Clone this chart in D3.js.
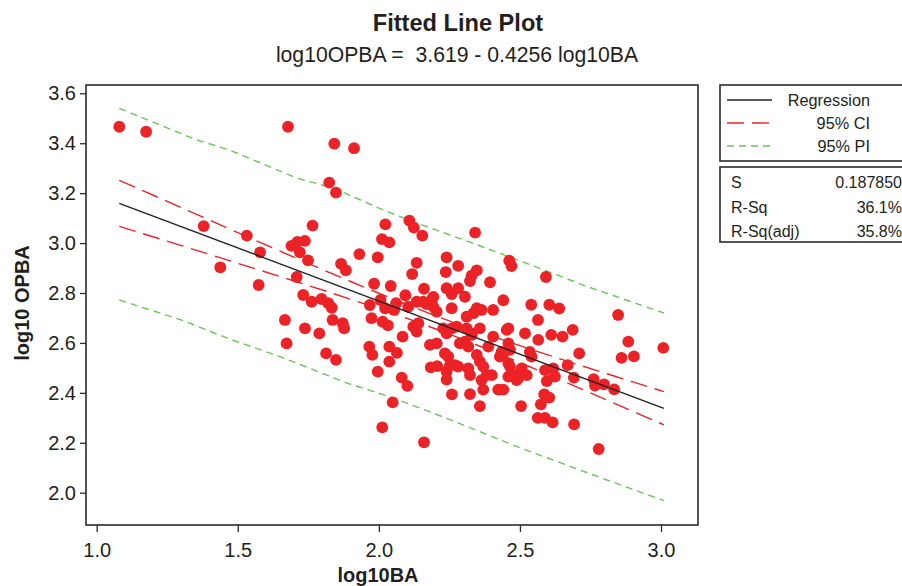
<!DOCTYPE html>
<html><head><meta charset="utf-8">
<script src="https://cdn.jsdelivr.net/npm/d3@7"></script>
<style>
html,body{margin:0;padding:0;background:#fff;}
text{font-family:"Liberation Sans",Arial,Helvetica,sans-serif;fill:#231f20;}
</style></head>
<body>
<svg id="c" width="902" height="586"></svg>
<script>
// ---- data ----
const log10BA = [1.080,1.175,1.678,1.842,1.912,1.824,1.848,1.379,1.532,1.579,1.438,1.574,1.765,1.690,1.711,1.738,1.720,1.749,1.709,1.866,
1.883,1.931,1.996,2.023,2.011,2.037,1.983,2.042,1.732,1.762,1.797,1.821,1.833,1.667,1.738,1.789,1.673,1.836,1.872,1.877,
1.813,1.848,1.968,1.974,2.013,2.032,1.966,1.977,1.996,2.037,2.064,2.037,2.049,2.012,2.006,2.022,2.054,2.061,2.108,2.124,
2.154,2.134,2.118,2.094,2.104,2.134,2.084,2.122,2.134,2.341,2.240,2.281,2.237,2.347,2.329,2.323,2.394,2.462,2.470,2.592,
2.160,2.193,2.240,2.281,2.258,2.305,2.441,2.540,2.604,2.639,2.169,2.193,2.205,2.258,2.347,2.364,2.335,2.311,2.405,2.459,
2.564,2.518,2.565,2.611,2.651,2.687,2.848,2.884,3.008,2.860,2.904,2.710,2.669,2.691,2.761,2.766,2.798,2.834,2.535,2.541,
2.589,2.618,2.595,2.624,2.586,2.604,2.574,2.563,2.589,2.616,2.692,2.779,2.504,2.358,2.323,2.259,2.370,2.423,2.441,2.160,
2.240,2.081,2.101,2.228,2.240,2.258,2.276,2.311,2.358,2.329,2.405,2.205,2.181,2.287,2.317,2.388,2.234,2.246,2.252,2.270,
2.281,2.240,2.184,2.207,2.323,2.317,2.347,2.358,2.370,2.382,2.400,2.364,2.429,2.435,2.465,2.471,2.488,2.500,2.459,2.524,
2.441,2.459,2.494,2.506,2.305,2.329,2.453,2.459,2.465,2.140,2.157,2.187];
const log10OPBA = [3.466,3.446,3.466,3.398,3.380,3.242,3.202,3.068,3.030,2.963,2.903,2.832,3.070,2.989,3.005,3.009,2.963,2.931,2.864,2.917,
2.891,2.956,2.943,3.075,3.016,3.003,2.837,2.828,2.792,2.765,2.776,2.759,2.741,2.692,2.658,2.638,2.598,2.692,2.679,2.658,
2.558,2.532,2.752,2.699,2.685,2.670,2.585,2.552,2.485,2.585,2.560,2.525,2.362,2.262,2.772,2.739,2.732,2.759,3.090,3.062,
3.030,2.921,2.876,2.791,2.745,2.765,2.625,2.665,2.645,3.042,2.943,2.909,2.884,2.891,2.870,2.848,2.843,2.930,2.908,2.864,
2.817,2.784,2.819,2.819,2.796,2.785,2.771,2.753,2.753,2.738,2.756,2.745,2.725,2.739,2.739,2.732,2.719,2.705,2.732,2.658,
2.692,2.638,2.612,2.632,2.625,2.652,2.712,2.605,2.580,2.540,2.546,2.558,2.511,2.461,2.455,2.429,2.434,2.414,2.564,2.545,
2.491,2.498,2.447,2.465,2.394,2.381,2.354,2.300,2.300,2.282,2.274,2.175,2.347,2.347,2.395,2.394,2.413,2.413,2.413,2.202,
2.453,2.461,2.428,2.658,2.638,2.658,2.665,2.658,2.658,2.632,2.625,2.598,2.592,2.598,2.585,2.585,2.558,2.545,2.511,2.511,
2.505,2.485,2.502,2.507,2.471,2.498,2.552,2.525,2.505,2.471,2.471,2.451,2.545,2.564,2.505,2.471,2.451,2.478,2.518,2.471,
2.558,2.465,2.458,2.498,2.605,2.638,2.652,2.598,2.572,2.679,2.765,2.772];

const regX = [1.08, 3.01];
const regY = [3.159, 2.338];

const ciX      = [1.08, 1.3, 1.5, 1.7, 1.9, 2.1, 2.3, 2.5, 2.7, 2.9, 3.01];
const ciUpper  = [3.251, 3.142, 3.042, 2.943, 2.846, 2.753, 2.667, 2.589, 2.515, 2.444, 2.405];
const ciLower  = [3.067, 2.990, 2.919, 2.848, 2.775, 2.698, 2.613, 2.521, 2.424, 2.326, 2.272];

const piUpperX = [1.08, 1.35, 1.47, 1.71, 1.84, 2.0, 2.12, 2.32, 2.54, 2.74, 2.83, 3.01];
const piUpper  = [3.540, 3.415, 3.373, 3.260, 3.220, 3.140, 3.086, 3.005, 2.912, 2.825, 2.790, 2.720];
const piLowerX = [1.08, 1.30, 1.48, 1.65, 1.89, 2.04, 2.24, 2.50, 2.76, 3.01];
const piLower  = [2.772, 2.692, 2.612, 2.545, 2.438, 2.384, 2.298, 2.180, 2.071, 1.968];

const xTicks = [1.0, 1.5, 2.0, 2.5, 3.0];
const yTicks = [2.0, 2.2, 2.4, 2.6, 2.8, 3.0, 3.2, 3.4, 3.6];

const legendLabels = ["Regression", "95% CI", "95% PI"];
const statLabels = ["S", "R-Sq", "R-Sq(adj)"];
const statValues = ["0.187850", "36.1%", "35.8%"];

const title = "Fitted Line Plot";
const subtitle = "log10OPBA =  3.619 - 0.4256 log10BA";
const xTitle = "log10BA";
const yTitle = "log10 OPBA";

// ---- drawing ----
const svg = d3.select("#c");
const frame = {l: 86, t: 85, r: 698, b: 525};
const x = d3.scaleLinear().domain([1.0, 3.0]).range([96.7, 661]);
const y = d3.scaleLinear().domain([2.0, 3.6]).range([492.7, 93.3]);

const RED = "#ec2227", GREEN = "#6cc35c", DASHRED = "#e8242b", INK = "#2b2b2b";

svg.append("text").attr("x", 458).attr("y", 31).attr("text-anchor", "middle")
  .attr("font-size", 23.6).attr("font-weight", "bold").text(title);
svg.append("text").attr("x", 457).attr("y", 62).attr("text-anchor", "middle")
  .attr("font-size", 21.2).style("white-space", "pre").attr("xml:space", "preserve").text(subtitle);

// axes
const ax = svg.append("g").attr("transform", `translate(0,${frame.b})`)
  .call(d3.axisBottom(x).tickValues(xTicks).tickFormat(d3.format(".1f")).tickSize(7).tickPadding(6));
const ay = svg.append("g").attr("transform", `translate(${frame.l},0)`)
  .call(d3.axisLeft(y).tickValues(yTicks).tickFormat(d3.format(".1f")).tickSize(6).tickPadding(4));
[ax, ay].forEach(g => {
  g.select(".domain").remove();
  g.selectAll(".tick line").attr("stroke", INK).attr("stroke-width", 1.3);
  g.selectAll(".tick text").attr("font-size", 20).attr("fill", "#231f20")
    .attr("font-family", '"Liberation Sans",Arial,sans-serif');
});
ax.selectAll(".tick text").attr("dy", "0.95em");

svg.append("text").attr("x", 378).attr("y", 582).attr("text-anchor", "middle")
  .attr("font-size", 20).attr("font-weight", "bold").text(xTitle);
svg.append("text").attr("transform", "translate(29,303) rotate(-90)").attr("text-anchor", "middle")
  .attr("font-size", 20).attr("font-weight", "bold").text(yTitle);

// lines
const line = d3.line().x(d => x(d[0])).y(d => y(d[1]));
const curve = d3.line().x(d => x(d[0])).y(d => y(d[1])).curve(d3.curveMonotoneX);
const plot = svg.append("g");

plot.append("path").attr("d", line(d3.zip(piUpperX, piUpper))).attr("fill", "none")
  .attr("stroke", GREEN).attr("stroke-width", 1.4).attr("stroke-dasharray", "7,5");
plot.append("path").attr("d", line(d3.zip(piLowerX, piLower))).attr("fill", "none")
  .attr("stroke", GREEN).attr("stroke-width", 1.4).attr("stroke-dasharray", "7,5");
plot.append("path").attr("d", curve(d3.zip(ciX, ciUpper))).attr("fill", "none")
  .attr("stroke", DASHRED).attr("stroke-width", 1.4).attr("stroke-dasharray", "17,8");
plot.append("path").attr("d", curve(d3.zip(ciX, ciLower))).attr("fill", "none")
  .attr("stroke", DASHRED).attr("stroke-width", 1.4).attr("stroke-dasharray", "17,8");

plot.selectAll("circle").data(d3.zip(log10BA, log10OPBA)).join("circle")
  .attr("cx", d => x(d[0])).attr("cy", d => y(d[1])).attr("r", 5.9).attr("fill", RED);

plot.append("path").attr("d", line(d3.zip(regX, regY))).attr("fill", "none")
  .attr("stroke", "#222").attr("stroke-width", 1.4);

svg.append("rect").attr("x", frame.l).attr("y", frame.t)
  .attr("width", frame.r - frame.l).attr("height", frame.b - frame.t)
  .attr("fill", "none").attr("stroke", INK).attr("stroke-width", 1.6);

// legend box 1
const lg = svg.append("g");
lg.append("rect").attr("x", 720).attr("y", 85).attr("width", 200).attr("height", 76)
  .attr("fill", "#fff").attr("stroke", INK).attr("stroke-width", 1.6);
const legStyles = [
  {stroke: "#222", dash: null},
  {stroke: DASHRED, dash: "17,8"},
  {stroke: GREEN, dash: "7,5"}
];
legendLabels.forEach((lab, i) => {
  const yy = 100 + i * 23;
  const l = lg.append("line").attr("x1", 727).attr("x2", 772).attr("y1", yy).attr("y2", yy)
    .attr("stroke", legStyles[i].stroke).attr("stroke-width", 1.4);
  if (legStyles[i].dash) l.attr("stroke-dasharray", legStyles[i].dash);
  lg.append("text").attr("x", 870).attr("y", yy + 5.5).attr("text-anchor", "end")
    .attr("font-size", 16.3).text(lab);
});

// legend box 2
lg.append("rect").attr("x", 720).attr("y", 167).attr("width", 200).attr("height", 75)
  .attr("fill", "#fff").attr("stroke", INK).attr("stroke-width", 1.6);
statLabels.forEach((lab, i) => {
  const yy = 188 + i * 24.5;
  lg.append("text").attr("x", 731).attr("y", yy).attr("font-size", 16).text(lab);
  lg.append("text").attr("x", 902).attr("y", yy).attr("text-anchor", "end")
    .attr("font-size", 16).text(statValues[i]);
});
</script>
</body></html>
